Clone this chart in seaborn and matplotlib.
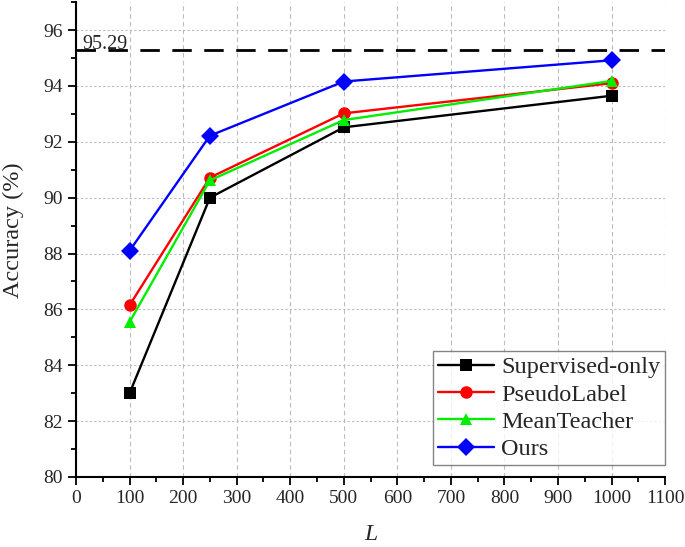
import pandas as pd
import matplotlib
matplotlib.use("Agg")
import matplotlib.pyplot as plt
import seaborn as sns
from matplotlib.ticker import MultipleLocator

sns.set_theme(style="ticks")
plt.rcParams["font.family"] = ["Liberation Serif", "DejaVu Serif"]

# Dati
labels_L = [100, 250, 500, 1000]
supervised = [83.0, 90.0, 92.52, 93.65]
pseudo = [86.15, 90.72, 93.02, 94.1]
mean_teacher = [85.55, 90.62, 92.78, 94.18]
ours = [88.1, 92.22, 94.16, 94.92]
upper_bound = 95.29

df = pd.DataFrame({
    "L": labels_L * 4,
    "acc": supervised + pseudo + mean_teacher + ours,
    "method": ["Supervised-only"] * 4 + ["PseudoLabel"] * 4 + ["MeanTeacher"] * 4 + ["Ours"] * 4,
})

colors = {"Supervised-only": "#000000", "PseudoLabel": "#ff0000",
          "MeanTeacher": "#00ee00", "Ours": "#0000ff"}
markers = {"Supervised-only": "s", "PseudoLabel": "o",
           "MeanTeacher": "^", "Ours": "D"}

fig = plt.figure(figsize=(6.85, 5.47), dpi=100)
ax = fig.add_axes([0.111, 0.128, 0.86, 0.868])

ax.axhline(upper_bound, color="black", linestyle=(0, (7, 4.5)), linewidth=2.0, zorder=1)
ax.text(11, upper_bound + 0.04, "95.29", fontsize=14.5, va="baseline", ha="left")

sns.lineplot(data=df, x="L", y="acc", hue="method", style="method",
             palette=colors, markers=markers, dashes=False,
             markersize=9, markeredgewidth=0, linewidth=1.7, ax=ax)

ax.set_xlim(0, 1100)
ax.set_ylim(80, 97)
ax.xaxis.set_major_locator(MultipleLocator(100))
ax.xaxis.set_minor_locator(MultipleLocator(50))
ax.yaxis.set_major_locator(MultipleLocator(2))
ax.yaxis.set_minor_locator(MultipleLocator(1))
ax.tick_params(which="major", direction="out", length=6, width=1.3, labelsize=14, color="black")
ax.tick_params(which="minor", direction="out", length=3.5, width=1.3, color="black")
ax.grid(axis="x", which="major", color="#bbbbbb", linestyle=(0, (4, 3)), linewidth=0.8)
ax.grid(axis="y", which="major", color="#bbbbbb", linestyle=(0, (2, 2)), linewidth=0.8)
ax.set_axisbelow(True)

for s in ["top", "right"]:
    ax.spines[s].set_visible(False)
for s in ["left", "bottom"]:
    ax.spines[s].set_linewidth(1.5)
    ax.spines[s].set_color("black")

ax.set_xlabel("L", fontsize=17, fontstyle="italic")
ax.set_ylabel("Accuracy (%)", fontsize=17.5)
ax.xaxis.set_label_coords(0.5, -0.10)
ax.yaxis.set_label_coords(-0.088, 0.52)

leg = ax.legend(loc="lower right", fontsize=17.5, frameon=True, fancybox=False,
                edgecolor="#666666", handlelength=2.3, borderpad=0.2,
                labelspacing=0.22, handletextpad=0.3, borderaxespad=0.0,
                bbox_to_anchor=(1.0, 0.025))
leg.get_frame().set_linewidth(1.0)
for h in leg.legend_handles:
    h.set_markersize(9)

fig.savefig("out.png", dpi=100)
